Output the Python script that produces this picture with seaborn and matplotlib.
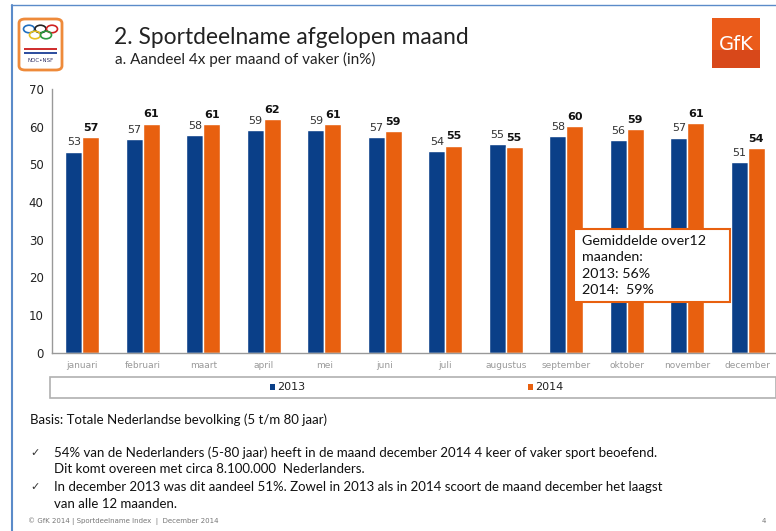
import pandas as pd
import matplotlib
matplotlib.use("Agg")
import matplotlib.pyplot as plt
import seaborn as sns
from matplotlib.patches import Rectangle, FancyBboxPatch, Circle

# data
maanden = ["januari", "februari", "maart", "april", "mei", "juni", "juli",
           "augustus", "september", "oktober", "november", "december"]
aandeel_2013 = [53.4, 56.6, 57.7, 59.0, 59.1, 57.3, 53.6, 55.3, 57.5, 56.4, 57.1, 50.6]
aandeel_2014 = [57.3, 60.8, 60.6, 62.1, 60.6, 58.8, 55.0, 54.6, 60.2, 59.4, 61.0, 54.3]
jaren = ["2013", "2014"]
y_ticks = [0, 10, 20, 30, 40, 50, 60, 70]

BLUE = "#0A3F88"
ORANGE = "#E8600F"
W, H = 776, 531

df = pd.DataFrame({
    "maand": maanden * 2,
    "aandeel": aandeel_2013 + aandeel_2014,
    "jaar": [jaren[0]] * 12 + [jaren[1]] * 12,
})

sns.set_style("white")
plt.rcParams["font.family"] = ["DejaVu Sans"]

fig = plt.figure(figsize=(W / 100, H / 100), dpi=100)


def fx(x):
    return x / W


def fy(y):
    return 1 - y / H


ax = fig.add_axes([fx(52), fy(352.7), (778 - 52) / W, (352.7 - 89) / H])
sns.barplot(data=df, x="maand", y="aandeel", hue="jaar", order=maanden,
            palette=[BLUE, ORANGE], width=0.56, saturation=1, ax=ax, legend=False)

ax.set_ylim(0, 70)
ax.set_xlim(-0.5, 11.5)
ax.set_yticks(y_ticks)
ax.set_xlabel("")
ax.set_ylabel("")
ax.tick_params(axis="y", length=4, color="#999999", labelsize=8.5, labelcolor="#222222", pad=2)
ax.tick_params(axis="x", which="major", length=0, labelsize=6.5, labelcolor="#999999", pad=6)
ax.set_xticks([i - 0.5 for i in range(13)], minor=True)
ax.tick_params(axis="x", which="minor", length=4, color="#aaaaaa")
for s in ["top", "right"]:
    ax.spines[s].set_visible(False)
for s in ["left", "bottom"]:
    ax.spines[s].set_color("#999999")
    ax.spines[s].set_linewidth(1.0)

# value labels
ax.bar_label(ax.containers[0], labels=[f"{v:.0f}" for v in aandeel_2013],
             fontsize=8, color="#333333", padding=3)
ax.bar_label(ax.containers[1], labels=[f"{v:.0f}" for v in aandeel_2014],
             fontsize=8, color="#111111", fontweight="bold", padding=3)

# slide frame
fig.add_artist(plt.Line2D([fx(12), fx(12)], [fy(5), fy(531)], color="#5B8BC9", lw=1.5))
fig.add_artist(plt.Line2D([fx(11), fx(776)], [fy(4.5), fy(4.5)], color="#5B8BC9", lw=1.0))

# legend box
fig.add_artist(Rectangle((fx(50), fy(398)), (776 - 50) / W, 21 / H, transform=fig.transFigure,
                         fill=False, edgecolor="#b0b0b0", lw=1.2))
fig.add_artist(Rectangle((fx(270), fy(390)), 5 / W, 6 / H, transform=fig.transFigure,
                         color=BLUE, lw=0))
fig.text(fx(277), fy(387), jaren[0], fontsize=8, va="center", ha="left", color="#222222",
         family="Liberation Sans Narrow")
fig.add_artist(Rectangle((fx(528), fy(390)), 5 / W, 6 / H, transform=fig.transFigure,
                         color=ORANGE, lw=0))
fig.text(fx(535), fy(387), jaren[1], fontsize=8, va="center", ha="left", color="#222222",
         family="Liberation Sans Narrow")

# average box
fig.add_artist(Rectangle((fx(574), fy(302)), (730 - 574) / W, (302 - 229) / H,
                         transform=fig.transFigure, facecolor="white",
                         edgecolor=ORANGE, lw=1.5, zorder=5))
for i, line in enumerate(["Gemiddelde over12", "maanden:", "2013: 56%", "2014:  59%"]):
    fig.text(fx(582), fy(241 + i * 16.3), line, fontsize=10.3, va="center", ha="left",
             color="#111111", family="Lato", zorder=6)

# title
fig.text(fx(114), fy(37), "2. Sportdeelname afgelopen maand", fontsize=16.4,
         va="center", ha="left", color="#222222", family="Lato")
fig.text(fx(115), fy(59), "a. Aandeel 4x per maand of vaker (in%)", fontsize=11,
         va="center", ha="left", color="#222222", family="Lato")

# NOC*NSF logo
fig.add_artist(FancyBboxPatch((fx(19), fy(70)), 43 / W, 51 / H, boxstyle="round,pad=0,rounding_size=0.008",
                              transform=fig.transFigure, facecolor="white",
                              edgecolor="#EE8A3A", lw=2))
ring_cols = [("#1f6fc0", 29, 29), ("#222222", 40.5, 29), ("#d02020", 52, 29),
             ("#e8c020", 35, 35), ("#2a9a40", 46, 35)]
for c, x, y in ring_cols:
    fig.add_artist(Circle((fx(x), fy(y)), 5.5 / W, transform=fig.transFigure,
                          fill=False, edgecolor=c, lw=1.2))
for j, c in enumerate(["#d03030", "#ffffff", "#3050a0"]):
    fig.add_artist(Rectangle((fx(24), fy(50 + j * 2)), 33 / W, 2 / H, transform=fig.transFigure,
                             color=c, lw=0))
fig.text(fx(40.5), fy(61), "NOC\u2022NSF", fontsize=4, ha="center", va="center", color="#333366")

# GfK logo
fig.add_artist(Rectangle((fx(712), fy(68)), 48 / W, 50 / H, transform=fig.transFigure,
                         color="#EA5B1A", lw=0))
fig.add_artist(Rectangle((fx(712), fy(68)), 48 / W, 18 / H, transform=fig.transFigure,
                         color="#D8481A", lw=0))
fig.text(fx(736), fy(44), "GfK", fontsize=14, ha="center", va="center", color="white",
         family="Liberation Sans Narrow")

# notes below the chart
note_font = ["Lato", "DejaVu Sans"]
fig.text(fx(30), fy(420), "Basis: Totale Nederlandse bevolking (5 t/m 80 jaar)", fontsize=9.5,
         va="center", ha="left", color="#111111", family=note_font)
bullets = [
    (453, "\u2713", "54% van de Nederlanders (5-80 jaar) heeft in de maand december 2014 4 keer of vaker sport beoefend."),
    (469, "", "Dit komt overeen met circa 8.100.000  Nederlanders."),
    (487, "\u2713", "In december 2013 was dit aandeel 51%. Zowel in 2013 als in 2014 scoort de maand december het laagst"),
    (504, "", "van alle 12 maanden."),
]
for y, mark, txt in bullets:
    if mark:
        fig.text(fx(30), fy(y), mark, fontsize=8, va="center", ha="left", color="#333333",
                 family="DejaVu Sans")
    fig.text(fx(54), fy(y), txt, fontsize=9.5, va="center", ha="left", color="#111111",
             family=note_font)

fig.text(fx(28), fy(521), "\u00a9 GfK 2014 | Sportdeelname Index  |  December 2014", fontsize=5,
         va="center", ha="left", color="#777777")
fig.text(fx(762), fy(521), "4", fontsize=5, va="center", ha="left", color="#777777")

fig.savefig("out.png", dpi=100, facecolor="white")
